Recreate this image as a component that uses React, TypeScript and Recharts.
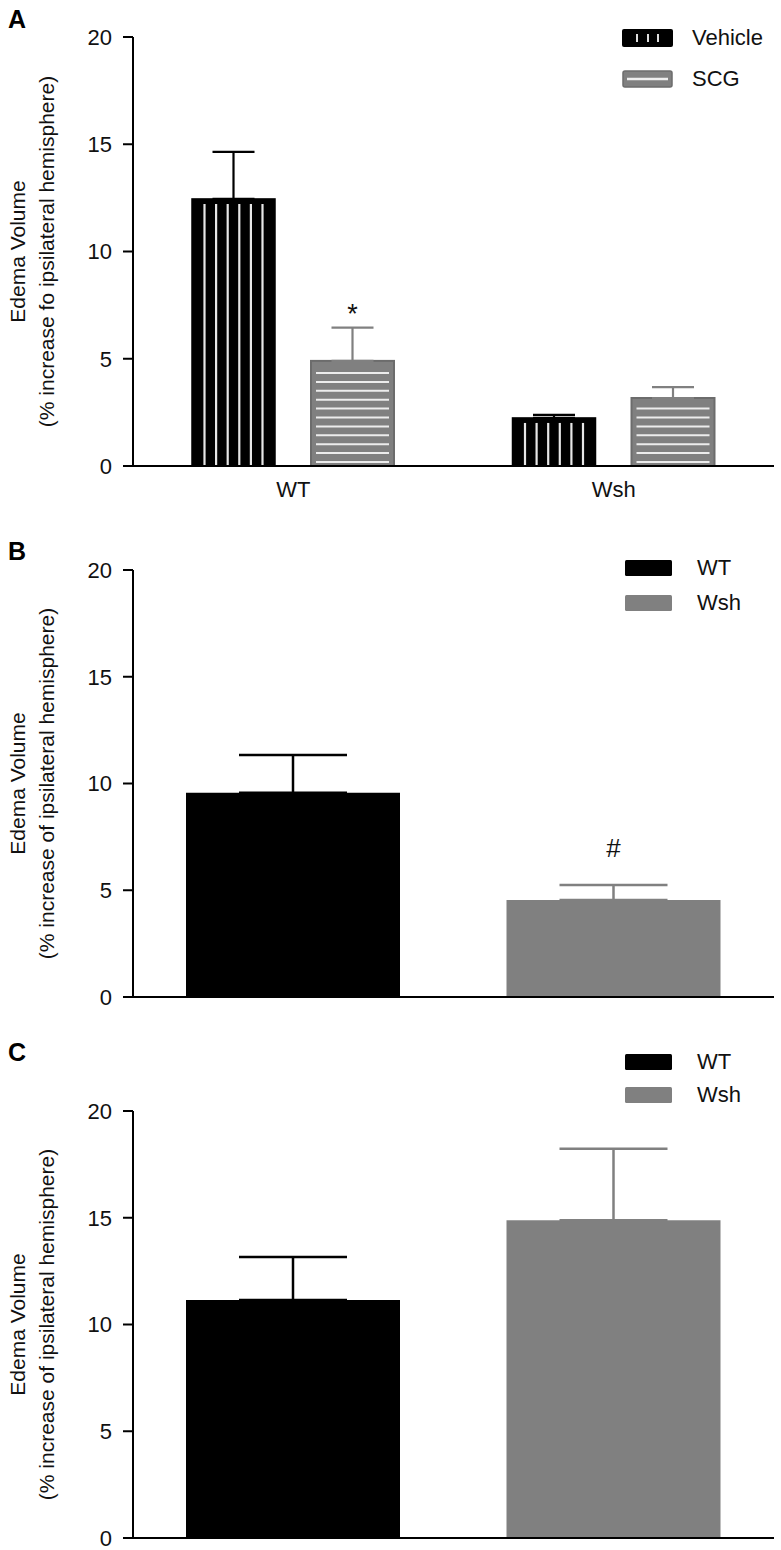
import React from 'react';
import { BarChart, Bar, XAxis, YAxis, ErrorBar, Cell, Legend, LabelList } from 'recharts';

const FONT = "'Liberation Sans', Arial, Helvetica, sans-serif";
const GRAY = '#808080';

// panel A: vehicle vs SCG in WT and Wsh mice
const groupsA = ['WT', 'Wsh'];
const vehicleMean = [12.45, 2.24];
const vehicleSem = [2.19, 0.14];
const scgMean = [4.9, 3.17];
const scgSem = [1.55, 0.51];
const scgMarks = ['*', undefined];

// panel B
const genotypes = ['WT', 'Wsh'];
const bMean = [9.57, 4.54];
const bSem = [1.76, 0.71];
const bMarks = [undefined, '#'];

// panel C
const cMean = [11.15, 14.88];
const cSem = [2.01, 3.35];

const yTicks = [0, 5, 10, 15, 20];
const colors = ['#000000', GRAY];

const dataA = groupsA.map((g, i) => ({
  group: g,
  vehicle: vehicleMean[i],
  vehicleErr: [0, vehicleSem[i]],
  scg: scgMean[i],
  scgErr: [0, scgSem[i]],
  mark: scgMarks[i],
}));

const makeSimple = (mean: number[], sem: number[], marks?: (string | undefined)[]) =>
  genotypes.map((g, i) => ({
    genotype: g,
    mean: mean[i],
    errWT: i === 0 ? [0, sem[i]] : null,
    errWsh: i === 1 ? [0, sem[i]] : null,
    mark: marks ? marks[i] : undefined,
  }));

const dataB = makeSimple(bMean, bSem, bMarks);
const dataC = makeSimple(cMean, cSem);

// black bar with thin vertical white stripes
const VehicleShape = (p: any) => {
  const { x, y, width, height } = p;
  if (!height || height <= 0) return null;
  const n = 6;
  const step = 11.6;
  const start = x + width / 2 - (step * (n - 1)) / 2;
  return (
    <g>
      <rect x={x} y={y} width={width} height={height} fill="#000" stroke="#000" strokeWidth={1.5} />
      {Array.from({ length: n }, (_, i) => (
        <line key={i} x1={start + i * step} x2={start + i * step} y1={y + 5} y2={y + height}
          stroke="#e6e6e6" strokeWidth={2.2} />
      ))}
    </g>
  );
};

// gray bar with horizontal white stripes
const ScgShape = (p: any) => {
  const { x, y, width, height } = p;
  if (!height || height <= 0) return null;
  const lines: number[] = [];
  for (let ly = y + height - 4; ly > y + 8; ly -= 8.9) lines.push(ly);
  return (
    <g>
      <rect x={x} y={y} width={width} height={height} fill={GRAY} stroke="#6c6c6c" strokeWidth={2} />
      {lines.map((ly, i) => (
        <line key={i} x1={x + 5} x2={x + width - 5} y1={ly} y2={ly} stroke="#ececec" strokeWidth={2} />
      ))}
    </g>
  );
};

const YLabel = (props: any) => {
  const vb = props.viewBox;
  const cy = vb && vb.height ? vb.y + vb.height / 2 : props.fallback;
  return (
    <g>
      <text transform={`translate(25, ${cy}) rotate(-90)`} textAnchor="middle" fontSize={21} fill="#111" fontFamily={FONT}>
        Edema Volume
      </text>
      <text transform={`translate(54, ${cy}) rotate(-90)`} textAnchor="middle" fontSize={21} fill="#111" fontFamily={FONT}>
        {props.second}
      </text>
    </g>
  );
};

const LegendA = () => (
  <div style={{ fontFamily: FONT, fontSize: 22, color: '#111' }}>
    <div style={{ display: 'flex', alignItems: 'center', height: 41 }}>
      <svg width={51} height={18}>
        <rect x={0} y={0} width={51} height={18} rx={2} fill="#000" />
        {[15, 26, 36].map((lx) => (
          <line key={lx} x1={lx} x2={lx} y1={5} y2={13} stroke="#ddd" strokeWidth={2} />
        ))}
      </svg>
      <span style={{ marginLeft: 19 }}>Vehicle</span>
    </div>
    <div style={{ display: 'flex', alignItems: 'center', height: 41 }}>
      <svg width={51} height={18}>
        <rect x={1} y={1} width={49} height={16} rx={2} fill={GRAY} stroke="#6c6c6c" strokeWidth={1.5} />
        <line x1={5} x2={46} y1={9} y2={9} stroke="#eee" strokeWidth={2.5} />
      </svg>
      <span style={{ marginLeft: 19 }}>SCG</span>
    </div>
  </div>
);

const LegendSimple = ({ rowH }: { rowH: number }) => (
  <div style={{ fontFamily: FONT, fontSize: 22, color: '#111' }}>
    {genotypes.map((g, i) => (
      <div key={g} style={{ display: 'flex', alignItems: 'center', height: rowH }}>
        <svg width={47} height={16}>
          <rect x={0} y={0} width={47} height={16} rx={1.5} fill={colors[i]} />
        </svg>
        <span style={{ marginLeft: 25 }}>{g}</span>
      </div>
    ))}
  </div>
);

const tickStyle = { fontSize: 22, fill: '#111', fontFamily: FONT };

const PanelLetter = ({ text, top }: { text: string; top: number }) => (
  <div style={{ position: 'absolute', left: 8, top, fontSize: 25, fontWeight: 'bold', lineHeight: '25px', fontFamily: FONT, color: '#000' }}>
    {text}
  </div>
);

const SimplePanel = ({ data, height, top, xh, legendTop, rowH, second, markSize }: any) => (
  <div style={{ position: 'absolute', left: 0, top }}>
    <BarChart width={781} height={height} data={data} margin={{ top: height - 427 - xh, right: 7, bottom: 0, left: 0 }} barSize={214}>
      <XAxis dataKey="genotype" tick={false} tickLine={false} height={xh}
        axisLine={{ stroke: '#000', strokeWidth: 2 }} />
      <YAxis domain={[0, 20]} ticks={yTicks} interval={0} width={133} tickSize={10} tickMargin={11}
        tick={tickStyle} axisLine={{ stroke: '#000', strokeWidth: 2 }} tickLine={{ stroke: '#000', strokeWidth: 2 }}
        label={<YLabel second={second} fallback={(height - 427 - xh) + 213} />} />
      <Legend layout="vertical" align="center" verticalAlign="middle"
        wrapperStyle={{ top: legendTop, left: 625, width: 150 }}
        content={() => <LegendSimple rowH={rowH} />} />
      <Bar dataKey="mean" isAnimationActive={false}>
        {data.map((_: any, i: number) => (
          <Cell key={i} fill={colors[i]} />
        ))}
        <ErrorBar dataKey="errWT" width={54} stroke="#000" strokeWidth={2.5} direction="y" isAnimationActive={false} />
        <ErrorBar dataKey="errWsh" width={54} stroke={GRAY} strokeWidth={2.5} direction="y" isAnimationActive={false} />
        {markSize ? (
          <LabelList dataKey="mark" position="top" offset={43} fontSize={markSize} fill="#111" fontFamily={FONT} />
        ) : null}
      </Bar>
    </BarChart>
  </div>
);

export default function App() {
  return (
    <div style={{ position: 'absolute', left: 0, top: 0, width: 781, height: 1550, overflow: 'hidden', background: '#fff', fontFamily: FONT }}>
      <PanelLetter text="A" top={7} />
      <div style={{ position: 'absolute', left: 0, top: 0 }}>
        <BarChart width={781} height={512} data={dataA} margin={{ top: 37, right: 7, bottom: 12, left: 0 }}
          barSize={83} barGap={36}>
          <XAxis dataKey="group" tickLine={false} tickSize={0} tickMargin={15} height={34} interval={0}
            tick={tickStyle} axisLine={{ stroke: '#000', strokeWidth: 2 }} />
          <YAxis domain={[0, 20]} ticks={yTicks} interval={0} width={133} tickSize={10} tickMargin={11}
            tick={tickStyle} axisLine={{ stroke: '#000', strokeWidth: 2 }} tickLine={{ stroke: '#000', strokeWidth: 2 }}
            label={<YLabel second="(% increase fo ipsilateral hemisphere)" fallback={251} />} />
          <Legend layout="vertical" align="center" verticalAlign="middle"
            wrapperStyle={{ top: 17, left: 622, width: 159 }} content={() => <LegendA />} />
          <Bar dataKey="vehicle" shape={<VehicleShape />} isAnimationActive={false}>
            <ErrorBar dataKey="vehicleErr" width={21} stroke="#000" strokeWidth={2.2} direction="y" isAnimationActive={false} />
          </Bar>
          <Bar dataKey="scg" shape={<ScgShape />} isAnimationActive={false}>
            <ErrorBar dataKey="scgErr" width={21} stroke={GRAY} strokeWidth={2.2} direction="y" isAnimationActive={false} />
            <LabelList dataKey="mark" position="top" offset={38} fontSize={27} fill="#111" fontFamily={FONT} />
          </Bar>
        </BarChart>
      </div>

      <PanelLetter text="B" top={539} />
      <SimplePanel data={dataB} height={512} top={500} xh={15} legendTop={50} rowH={35}
        second="(% increase of ipsilateral hemisphere)" markSize={26} />

      <PanelLetter text="C" top={1040} />
      <SimplePanel data={dataC} height={540} top={1010} xh={12} legendTop={35} rowH={33}
        second="(% increase of ipsilateral hemisphere)" />
    </div>
  );
}
